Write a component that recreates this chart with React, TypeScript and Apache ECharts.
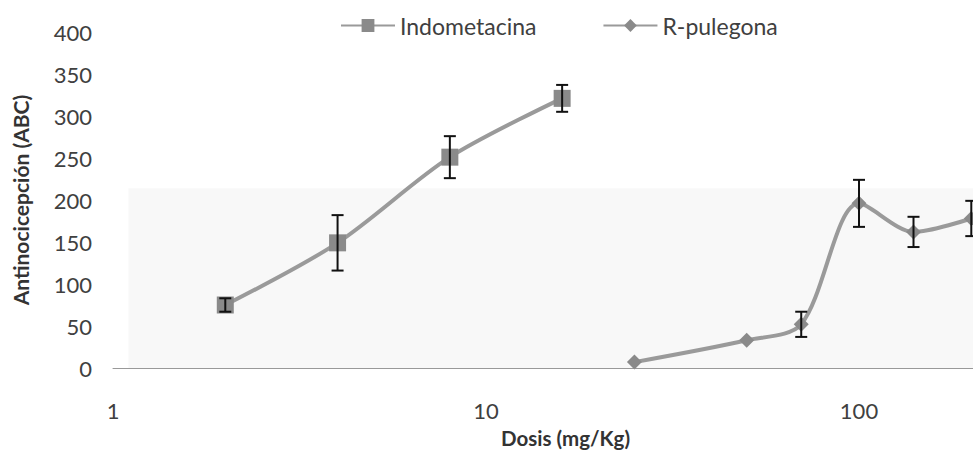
import React, { useEffect, useRef } from "react";
import * as echarts from "echarts";

const indoDoses = [2, 4, 8, 16];
const indoValues = [75, 149, 251, 321];
const indoErr = [8, 33, 25, 16];

const pulDoses = [25, 50, 70, 100, 140, 200];
const pulValues = [7, 33, 52, 196, 162, 178];
const pulErr = [0, 0, 15, 28, 18, 21];

const yTicks = [0, 50, 100, 150, 200, 250, 300, 350, 400];
const xTickLabels = ["1", "10", "100", ""];

const FONT = "Lato, 'Open Sans', sans-serif";

function errRender(params: any, api: any) {
  const x = api.value(0);
  const y = api.value(1);
  const e = api.value(2);
  if (!e) return null;
  const top = api.coord([x, y + e]);
  const bot = api.coord([x, y - e]);
  const hw = 6;
  const style = { stroke: "#111", lineWidth: 2 };
  return {
    type: "group",
    children: [
      { type: "line", shape: { x1: top[0], y1: top[1], x2: bot[0], y2: bot[1] }, style },
      { type: "line", shape: { x1: top[0] - hw, y1: top[1], x2: top[0] + hw, y2: top[1] }, style },
      { type: "line", shape: { x1: bot[0] - hw, y1: bot[1], x2: bot[0] + hw, y2: bot[1] }, style },
    ],
  };
}

export default function App() {
  const ref = useRef<HTMLDivElement>(null);
  useEffect(() => {
    if (!ref.current) return;
    const chart = echarts.init(ref.current, undefined, { renderer: "svg" });
    const indoData = indoDoses.map((d, i) => [d, indoValues[i]]);
    const pulData = pulDoses.map((d, i) => [d, pulValues[i]]);
    const indoErrData = indoDoses.map((d, i) => [d, indoValues[i], indoErr[i]]);
    const pulErrData = pulDoses.map((d, i) => [d, pulValues[i], pulErr[i]]);
    chart.setOption({
      animation: false,
      backgroundColor: "#ffffff",
      legend: {
        data: ["Indometacina", "R-pulegona"],
        left: 335,
        top: 9,
        itemWidth: 54,
        itemHeight: 16,
        itemGap: 66,
        textStyle: { fontFamily: FONT, fontSize: 23, color: "#404040" },
      },
      grid: {
        left: 113,
        top: 32,
        width: 1119,
        height: 336,
        containLabel: false,
        outerBoundsMode: "none",
      },
      xAxis: {
        type: "log",
        logBase: 10,
        min: 1,
        max: 1000,
        axisLine: { show: true, lineStyle: { color: "#999", width: 1 } },
        axisTick: { show: false },
        splitLine: { show: false },
        axisLabel: {
          margin: 31,
          fontFamily: FONT,
          fontSize: 22,
          color: "#404040",
          showMaxLabel: false,
          formatter: (v: number) => {
            const idx = Math.round(Math.log10(v));
            return xTickLabels[idx] ?? "";
          },
        },
      },
      yAxis: {
        type: "value",
        min: yTicks[0],
        max: yTicks[yTicks.length - 1],
        interval: 50,
        axisLine: { show: false },
        axisTick: { show: false },
        splitLine: { show: false },
        axisLabel: { margin: 21, fontFamily: FONT, fontSize: 22, color: "#404040" },
        name: "Antinocicepción (ABC)",
        nameLocation: "middle",
        nameGap: 82,
        nameTextStyle: { fontFamily: FONT, fontSize: 21, fontWeight: "bold", color: "#333" },
      },
      graphic: [
        {
          type: "text",
          left: 501,
          top: 427,
          style: {
            text: "Dosis (mg/Kg)",
            fontFamily: FONT,
            fontSize: 20.5,
            fontWeight: "bold",
            fill: "#333",
          },
        },
      ],
      series: [
        {
          name: "Indometacina",
          type: "line",
          data: indoData,
          smooth: 0.3,
          symbol: "rect",
          symbolSize: 17,
          lineStyle: { color: "#9a9a9a", width: 4 },
          itemStyle: { color: "#8a8a8a" },
          z: 3,
          markArea: {
            silent: true,
            itemStyle: { color: "#f8f8f8" },
            data: [[{ yAxis: 0, xAxis: 1.1 }, { yAxis: 214, xAxis: 1000 }]],
          },
        },
        {
          name: "R-pulegona",
          type: "line",
          data: pulData,
          smooth: 0.3,
          symbol: "diamond",
          symbolSize: 15,
          lineStyle: { color: "#9a9a9a", width: 4 },
          itemStyle: { color: "#8a8a8a" },
          z: 3,
        },
        {
          name: "errIndo",
          type: "custom",
          renderItem: errRender,
          data: indoErrData,
          encode: { x: 0, y: 1 },
          z: 5,
          silent: true,
        },
        {
          name: "errPul",
          type: "custom",
          renderItem: errRender,
          data: pulErrData,
          encode: { x: 0, y: 1 },
          z: 5,
          silent: true,
        },
      ],
    });
    return () => chart.dispose();
  }, []);
  return (
    <div
      ref={ref}
      style={{ position: "fixed", left: 0, top: 0, width: 973, height: 476, overflow: "hidden" }}
    />
  );
}
